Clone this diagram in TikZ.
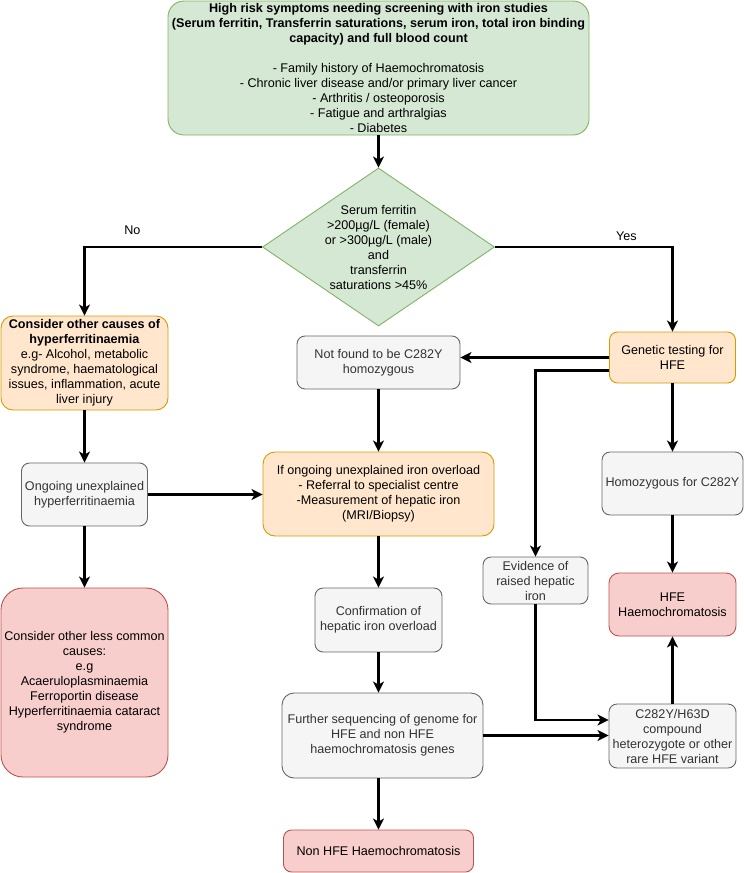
\documentclass[tikz,border=0pt]{standalone}
\usepackage{fontspec}
\setmainfont{Liberation Sans}
\usetikzlibrary{arrows.meta,shapes.geometric}
\definecolor{greenfill}{HTML}{D5E8D4}
\definecolor{greenline}{HTML}{82B366}
\definecolor{orangefill}{HTML}{FFE6CC}
\definecolor{orangeline}{HTML}{D79B00}
\definecolor{greyfill}{HTML}{F5F5F5}
\definecolor{greyline}{HTML}{666666}
\definecolor{greytext}{HTML}{333333}
\definecolor{redfill}{HTML}{F8CECC}
\definecolor{redline}{HTML}{B85450}

\begin{document}
\begin{tikzpicture}[x=1pt, y=-1pt,
  font=\fontsize{12.6}{15}\selectfont,
  box/.style={rectangle, rounded corners=8pt, align=center, inner sep=0pt, line width=0.9pt},
  greenbox/.style={box, fill=greenfill, draw=greenline},
  orangebox/.style={box, fill=orangefill, draw=orangeline},
  greybox/.style={box, fill=greyfill, draw=greyline, text=greytext},
  redbox/.style={box, fill=redfill, draw=redline},
  arrow/.style={line width=2.3pt, -{Stealth[length=11pt,width=11pt,inset=3pt]}},
  lbl/.style={inner sep=0pt}]
\useasboundingbox (0,0) rectangle (744,873);

\node[greenbox, rounded corners=16pt, minimum width=421pt, minimum height=134pt] (top) at (378.5,68)
  {\textbf{High risk symptoms needing screening with iron studies}\\
   \textbf{(Serum ferritin, Transferrin saturations, serum iron, total iron binding}\\
   \textbf{capacity) and full blood count}\\[15pt]
   - Family history of Haemochromatosis\\
   - Chronic liver disease and/or primary liver cancer\\
   - Arthritis / osteoporosis\\
   - Fatigue and arthralgias\\
   - Diabetes};
\node[diamond, aspect=1.468, minimum width=232pt, minimum height=158pt, inner sep=0pt,
  align=center, fill=greenfill, draw=greenline, line width=0.9pt] (dia) at (378.5,247)
  {Serum ferritin\\ >200µg/L (female)\\ or >300µg/L (male)\\ and\\ transferrin\\ saturations >45\%};

\node[orangebox, rounded corners=12pt, minimum width=167pt, minimum height=94pt] (other) at (84.5,363)
  {\textbf{Consider other causes of}\\ \textbf{hyperferritinaemia}\\ e.g- Alcohol, metabolic\\
   syndrome, haematological\\ issues, inflammation, acute\\ liver injury};
\node[greybox, minimum width=126pt, minimum height=63pt] (ongo) at (84.5,494.5)
  {Ongoing unexplained\\ hyperferritinaemia};
\node[redbox, rounded corners=22pt, minimum width=167pt, minimum height=189pt] (less) at (84.5,682.5)
  {Consider other less common\\ causes:\\ e.g\\ Acaeruloplasminaemia\\ Ferroportin disease\\
   Hyperferritinaemia cataract\\ syndrome};

\node[greybox, minimum width=163pt, minimum height=53pt] (notf) at (378.5,362.5)
  {Not found to be C282Y\\ homozygous};
\node[orangebox, rounded corners=12pt, minimum width=231pt, minimum height=84pt] (ifon) at (378.5,494)
  {If ongoing unexplained iron overload\\ - Referral to specialist centre\\
   -Measurement of hepatic iron\\ (MRI/Biopsy)};
\node[greybox, minimum width=127pt, minimum height=64pt] (conf) at (378.5,620)
  {Confirmation of\\ hepatic iron overload};
\node[greybox, rounded corners=12pt, minimum width=201pt, minimum height=85pt] (furt) at (382.5,735.5)
  {Further sequencing of genome for\\ HFE and non HFE\\ haemochromatosis genes};
\node[redbox, minimum width=190pt, minimum height=42pt] (nonh) at (378.5,851)
  {Non HFE Haemochromatosis};

\node[orangebox, minimum width=126pt, minimum height=51pt] (gene) at (672.5,357.5)
  {Genetic testing for\\ HFE};
\node[greybox, minimum width=141pt, minimum height=63pt] (homo) at (672.5,483.5)
  {Homozygous for C282Y};
\node[greybox, minimum width=105pt, minimum height=47pt] (evid) at (535.5,580.5)
  {Evidence of\\ raised hepatic\\ iron};
\node[redbox, rounded corners=10pt, minimum width=127pt, minimum height=63pt] (hfe) at (672.5,604.5)
  {HFE\\ Haemochromatosis};
\node[greybox, minimum width=127pt, minimum height=64pt] (c282) at (672.5,736)
  {C282Y/H63D\\ compound\\ heterozygote or other\\ rare HFE variant};

\draw[arrow] (top) -- (dia);
\draw[arrow] (dia.west) -| node[lbl, pos=0.365, above=11pt] {No} (other.north);
\draw[arrow] (dia.east) -| node[lbl, pos=0.37, above=5pt] {Yes} (gene.north);
\draw[arrow] (other) -- (ongo);
\draw[arrow] (ongo) -- (less);
\draw[arrow] (ongo.east) -- (ongo.east -| ifon.west);

\draw[arrow] (gene.west) -- (gene.west -| notf.east);
\draw[arrow] ([yshift=-13pt]gene.west) -| (evid.north);
\draw[arrow] (notf) -- (ifon);
\draw[arrow] (ifon) -- (conf);
\draw[arrow] (conf.south) -- (conf.south |- furt.north);
\draw[arrow] (furt.south -| nonh.north) -- (nonh.north);
\draw[arrow] (furt.east) -- (furt.east -| c282.west);
\draw[arrow] (evid.south) |- ([yshift=16pt]c282.west);

\draw[arrow] (gene) -- (homo);
\draw[arrow] (homo) -- (hfe);
\draw[arrow] (c282) -- (hfe);
\end{tikzpicture}
\end{document}
